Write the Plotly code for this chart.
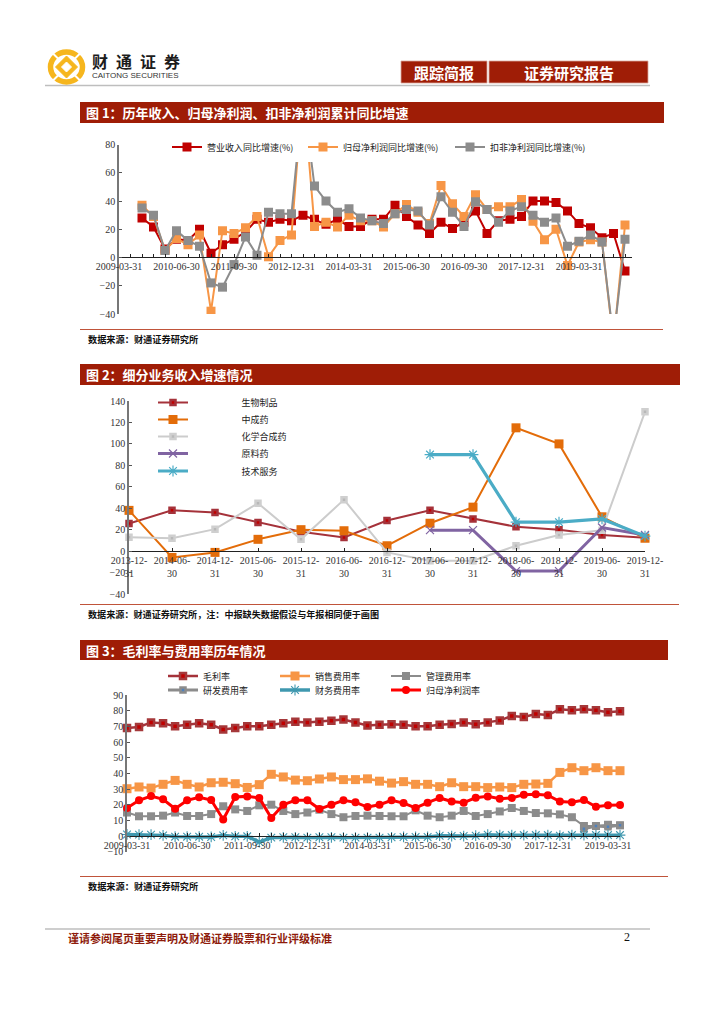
import plotly.graph_objects as go

W, H = 724, 1024

# ---------- data ----------
QUARTERS_A = []
for y in range(2009, 2021):
    for md in ("03-31", "06-30", "09-30", "12-31"):
        QUARTERS_A.append(f"{y}-{md}")
cats1 = QUARTERS_A[:45]
cats3 = QUARTERS_A[:42]

revenue = [None, None, 28, 21.6, 6, 13, 12, 20, 3, 9, 13, 18, 27, 25, 27, 26, 30, 27, 23.5, 27, 22, 22, 27, 27, 37,
           29, 23, 17, 25, 20.5, 25, 33, 17, 26, 27, 29, 40, 40, 39, 33, 24, 21, 14, 17, -9.6]
netprofit = [None, None, 37, 29, 5, 13.4, 9, 16, -38, 19, 17, 21, 29, 0.5, 12, 16, 120, 22, 25, 21.6, 30, 26, 26, 21.6, 31,
             37.5, 32, 24, 51, 38, 29, 44.5, 34, 36, 36, 41, 25.6, 12.5, 20, -5.6, 11, 12.5, 11, -60, 23]
deducted = [None, None, 35, 30, 5, 19, 12, 8, -18, -21, -5, 14.6, 1.6, 32, 31, 31, 115, 50.6, 40, 32, 34.6, 28, 26, 24, 31,
            34, 33, 23, 43, 32, 22, 39.5, 34, 25, 33, 36, 30, 25, 28, 8, 11.5, 16, 11, -58, 13]

cats2 = ["2013-12-31", "2014-06-30", "2014-12-31", "2015-06-30", "2015-12-31", "2016-06-30", "2016-12-31",
         "2017-06-30", "2017-12-31", "2018-06-30", "2018-12-31", "2019-06-30", "2019-12-31"]
cats2_labels = [c[:8] + "<br>" + c[8:] for c in cats2]
biologics = [25.8, 38, 36, 26.7, 18, 12.7, 28.5, 38, 30, 22.7, 20, 15, 12.4]
tcm = [38, -5.9, -1.2, 11, 20, 19, 5, 26, 41, 115, 100, 32, 12]
chem = [13, 12, 20.5, 44.7, 11, 48, -1.2, -9, -9, 5, 15, 19.5, 130]
api = [None, None, None, None, None, None, None, 19.5, 19.5, -18.6, -18.6, 22, 15]
tech = [None, None, None, None, None, None, None, 90, 90, 27, 27, 30, 14]

gross = [69, 69.6, 72.5, 72, 70, 71, 72, 71, 68, 69, 70, 70, 71, 72, 73, 72.5, 73, 73.6, 74.3, 72.5, 70.6, 71,
         71.3, 71, 70, 70, 71, 71.5, 72.5, 71.3, 72.5, 73.8, 76.6, 76, 77.9, 77.2, 80.9, 80.2, 80.9, 80.2, 79, 79.6]
selling = [30.2, 31.3, 30.6, 33, 35.5, 33, 31.3, 34, 34.3, 33.4, 31, 32.8, 39.4, 37.7, 35.7, 35.3, 36.4, 37.7, 36, 36, 36.5, 35,
           33.8, 34.7, 33, 33, 31.5, 34, 31.5, 31.5, 30.9, 31.3, 30.9, 33, 33.2, 33.6, 40.6, 43.6, 41.7, 43.6, 41.7, 41.7]
admin = [15, 12.6, 12.6, 13, 15, 12.8, 12.8, 14, 19, 17, 16, 19.6, 20, 16, 14, 15, 16.8, 14, 12, 12.8, 13, 12.8,
         12.6, 12.6, 16.4, 13, 12, 13, 16, 12.8, 14, 15.7, 17.9, 16, 14.7, 14.5, 13.8, 12, 6.4, 6.4, 7.2, 6.8]
rnd = [None] * 38 + [4.7, 6.4, 6.0, 6.9]
finance = [1, 0.9, 0.9, 0.4, -0.4, -0.4, -0.4, -0.6, 0.4, -0.2, -0.2, -3.8, -1, -0.8, -0.8, -1, -0.8, -0.8, -1, -1, -1, -1,
           -0.8, -0.6, -0.6, -0.6, 0.2, 0, 0, 0.2, 0.9, 0.6, 0.6, 0.6, 0.6, 0.6, 0.2, 0.6, 0.6, 0.6, 0.6, 0.6]
netmargin = [17.9, 22.8, 25.5, 23.4, 17.4, 22.8, 24.7, 23, 10.6, 24.9, 25.3, 24.3, 11.5, 20, 22.8, 22.8, 17.2, 20, 22.8, 21.5, 18.5, 20,
             22.8, 21, 17.9, 21.3, 24.3, 22, 21.3, 24.5, 25.3, 23.8, 24.3, 26.4, 26.6, 26, 22, 21.5, 23, 18.7, 19.6, 19.8]

# ---------- helpers ----------
SERIF = "Liberation Serif"
CJK = "Noto Sans CJK SC"
BAR = "#9F1D06"
TICK = "#333333"


def px(x):
    return x / W


def py(y):
    return 1 - y / H


shapes, annotations, legends = [], [], {}


def rect(x0, y0, x1, y1, fill, line=None, lw=0, layer="below"):
    shapes.append(dict(type="rect", xref="paper", yref="paper", x0=px(x0), x1=px(x1), y0=py(y0), y1=py(y1),
                       fillcolor=fill, line=dict(color=line or fill, width=lw), layer=layer))


def hline(x0, x1, y, color, lw=1.0):
    shapes.append(dict(type="line", xref="paper", yref="paper", x0=px(x0), x1=px(x1), y0=py(y), y1=py(y),
                       line=dict(color=color, width=lw), layer="below"))


def text(x, y, s, size, color="#111111", anchor="left", family=CJK):
    annotations.append(dict(xref="paper", yref="paper", x=px(x), y=py(y), text=s, showarrow=False,
                            xanchor=anchor, yanchor="middle", align=anchor, borderpad=0, borderwidth=0,
                            font=dict(size=size, color=color, family=family)))


fig = go.Figure()
legend_no = [1]


def add(xaxis, yaxis, x, y, name, lx, ly, color, width, marker, ltext=0, clip=True):
    """One series, with its own legend box placed at pixel position (lx, ly)."""
    key = "legend" if legend_no[0] == 1 else f"legend{legend_no[0]}"
    legend_no[0] += 1
    legends[key] = dict(x=px(lx), y=py(ly), xanchor="left", yanchor="middle", bgcolor="rgba(255,255,255,0)",
                        font=dict(size=9, family=CJK, color="#222222"), itemwidth=30,
                        traceorder="normal", borderwidth=0)
    label = "\u00a0" * ltext + name
    fig.add_trace(go.Scatter(x=x, y=y, name=label, mode="lines+markers", xaxis=xaxis, yaxis=yaxis, legend=key,
                             connectgaps=False, cliponaxis=clip, line=dict(color=color, width=width), marker=marker))


# ---------- chart 1 ----------
add("x", "y", cats1, revenue, "营业收入同比增速(%)", 167, 147, "#C00000", 2,
    dict(symbol="square", size=9, color="#C00000"))
add("x", "y", cats1, netprofit, "归母净利润同比增速(%)", 303, 147, "#F79646", 2,
    dict(symbol="square", size=9, color="#F79646"))
add("x", "y", cats1, deducted, "扣非净利润同比增速(%)", 450, 147, "#8C8C8C", 2,
    dict(symbol="square", size=9, color="#8C8C8C"))

# ---------- chart 2 ----------
BR = "#A5323A"
add("x2", "y2", cats2, biologics, "生物制品", 153, 402.5, BR, 2,
    dict(symbol="square", size=5, color="#C00000", line=dict(color=BR, width=2.5)), 24, False)
add("x2", "y2", cats2, tcm, "中成药", 153, 419.5, "#E36C09", 2,
    dict(symbol="square", size=9, color="#E36C09"), 24, False)
add("x2", "y2", cats2, chem, "化学合成药", 153, 436.5, "#CCCCCC", 2,
    dict(symbol="square", size=5, color="#B8B8B8", line=dict(color="#CFCFCF", width=2.5)), 24, False)
add("x2", "y2", cats2, api, "原料药", 153, 453.5, "#8064A2", 3,
    dict(symbol="x-thin-open", size=8, color="#8064A2", line=dict(color="#8064A2", width=1.2)), 24, False)
add("x2", "y2", cats2, tech, "技术服务", 153, 471, "#4BACC6", 3.2,
    dict(symbol="asterisk-open", size=9, color="#4BACC6", line=dict(color="#4BACC6", width=1.2)), 24, False)

# ---------- chart 3 ----------
add("x3", "y3", cats3, gross, "毛利率", 163, 676, BR, 2.5,
    dict(symbol="square", size=6, color="#C00000", line=dict(color="#A5383A", width=2.5)), 0, False)
add("x3", "y3", cats3, selling, "销售费用率", 275, 676, "#F79646", 2.5,
    dict(symbol="square", size=9, color="#F79646"), 0, False)
add("x3", "y3", cats3, admin, "管理费用率", 386, 676, "#8C8C8C", 2,
    dict(symbol="square", size=8, color="#8C8C8C"), 0, False)
add("x3", "y3", cats3, rnd, "研发费用率", 163, 690, "#8C8C8C", 3,
    dict(symbol="square", size=5, color="#4F81BD", line=dict(color="#8C8C8C", width=2.5)), 0, False)
add("x3", "y3", cats3, finance, "财务费用率", 275, 690, "#3F98AF", 3.4,
    dict(symbol="asterisk-open", size=9, color="#3F98AF", line=dict(color="#3F98AF", width=1.1)), 0, False)
add("x3", "y3", cats3, netmargin, "归母净利润率", 386, 690, "#FF0000", 3,
    dict(symbol="circle", size=8, color="#FF0000"), 0, False)


def axes(n, cats, xl, xr, yt, yb, vmin, vmax, dy, zero_y, every, ticktext=None, last=None):
    sfx = "" if n == 1 else str(n)
    labels = ticktext or [c if i % every == 0 else "" for i, c in enumerate(cats)]
    xa = dict(type="category", categoryorder="array", categoryarray=cats,
              domain=[px(xl), px(xr)], range=[0, last if last else len(cats) - 1],
              anchor="free", position=py(zero_y), showgrid=False, zeroline=False,
              showline=True, linecolor="#222222", linewidth=1.2,
              ticks="inside", ticklen=3, tickcolor="#222222", tickwidth=1,
              tickfont=dict(size=10, family=SERIF, color=TICK), tickmode="array", tickvals=cats, ticktext=labels,
              tickangle=0, automargin=False)
    ya = dict(domain=[py(yb), py(yt)], range=[vmin, vmax], dtick=dy, anchor="x" + sfx, showgrid=False, zeroline=False,
              showline=True, linecolor="#777777", linewidth=1.6, ticks="inside", ticklen=3,
              tickcolor="#555555", tickwidth=1, tickfont=dict(size=10, family=SERIF, color=TICK),
              automargin=False)
    return xa, ya


x1, y1 = axes(1, cats1, 119, 119 + 44.6 * 11.5, 144.5, 314, -40, 80, 20, 257, 5, last=44.6)
x2, y2 = axes(2, cats2, 129, 645, 401, 594, -40, 140, 20, 551, 1, cats2_labels)
x3, y3 = axes(3, cats3, 127, 620, 695, 851.7, -10, 90, 10, 835.7, 5)

# ---------- page furniture ----------
# logo
GOLD = "#F6B61E"
cx, cy = 66.5, 67
shapes.append(dict(type="circle", xref="paper", yref="paper", x0=px(cx - 16), x1=px(cx + 16),
                   y0=py(cy + 15), y1=py(cy - 15), line=dict(color=GOLD, width=5.5), fillcolor="rgba(0,0,0,0)"))
shapes.append(dict(type="path", xref="paper", yref="paper",
                   path=f"M{px(cx-11)},{py(cy)} L{px(cx)},{py(cy-11)} L{px(cx+11)},{py(cy)} L{px(cx)},{py(cy+11)} Z",
                   fillcolor=GOLD, line=dict(color=GOLD, width=1)))
shapes.append(dict(type="path", xref="paper", yref="paper",
                   path=f"M{px(cx-5)},{py(cy)} L{px(cx)},{py(cy-5)} L{px(cx+5)},{py(cy)} L{px(cx)},{py(cy+5)} Z",
                   fillcolor="#FFFFFF", line=dict(color="#FFFFFF", width=1)))
for sx, sy in ((-1, -1), (1, -1), (1, 1), (-1, 1)):
    shapes.append(dict(type="line", xref="paper", yref="paper",
                       x0=px(cx + sx * 6.5), x1=px(cx + sx * 15), y0=py(cy + sy * 6.5), y1=py(cy + sy * 15),
                       line=dict(color="#FFFFFF", width=2)))
text(92, 60.5, "<b>财\u2002通\u2002证\u2002券</b>", 16, "#1C1C1C")
text(92, 75.5, "CAITONG SECURITIES", 8, "#333333", family="Liberation Sans")

# header
rect(401, 61, 487, 83, BAR, "#D9A79C", 0.8)
rect(489, 61, 648, 83, BAR, "#D9A79C", 0.8)
text(444, 72, "<b>跟踪简报</b>", 15, "#FFFFFF", "center")
text(568.5, 72, "<b>证券研究报告</b>", 15, "#FFFFFF", "center")
hline(45, 650, 85.5, "#BEBEBE", 1.5)

# section bars
rect(80, 102, 664, 123, BAR)
text(86, 112.5, "<b>图 1：历年收入、归母净利润、扣非净利润累计同比增速</b>", 13, "#FFFFFF")
rect(80, 364, 680, 385, BAR)
text(86, 374.5, "<b>图 2：细分业务收入增速情况</b>", 13, "#FFFFFF")
rect(80, 640, 668, 660, BAR)
text(86, 650, "<b>图 3：毛利率与费用率历年情况</b>", 13, "#FFFFFF")

# rules + sources
hline(80, 663, 329.5, "#C0543A", 1.2)
text(88, 339, "<b>数据来源：财通证券研究所</b>", 9.2, "#111111")
hline(80, 679, 604.5, "#C0543A", 1.2)
text(88, 614, "<b>数据来源：财通证券研究所，注：中报缺失数据假设与年报相同便于画图</b>", 9.1, "#111111")
hline(80, 668, 876.5, "#C0543A", 1.2)
text(88, 886, "<b>数据来源：财通证券研究所</b>", 9.2, "#111111")

# footer
hline(45, 650, 929, "#BEBEBE", 1.5)
text(68, 938, "<b>谨请参阅尾页重要声明及财通证券股票和行业评级标准</b>", 11, "#8E1B0B")
text(627, 937, "2", 12, "#111111", "center", SERIF)

# white box behind the chart-1 legend hides the peak of the series
rect(172, 144, 592, 162, "#FFFFFF", layer="above")

layout = dict(width=W, height=H, margin=dict(l=0, r=0, t=0, b=0), paper_bgcolor="white", plot_bgcolor="white",
              autosize=False, xaxis=x1, yaxis=y1, xaxis2=x2, yaxis2=y2, xaxis3=x3, yaxis3=y3,
              shapes=shapes, annotations=annotations, showlegend=True, **legends)
fig.update_layout(**layout)
fig.write_html("out.html", config={"displayModeBar": False}, post_script="document.body.style.margin='0';")
